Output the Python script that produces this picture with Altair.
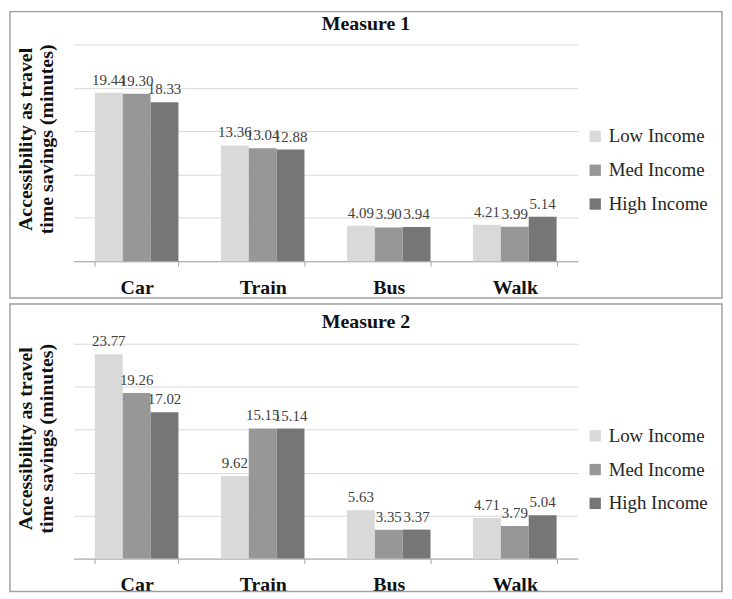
import altair as alt
import pandas as pd

modes = ["Car", "Train", "Bus", "Walk"]
groups = ["Low Income", "Med Income", "High Income"]

m1_low = [19.44, 13.36, 4.09, 4.21]
m1_med = [19.30, 13.04, 3.90, 3.99]
m1_high = [18.33, 12.88, 3.94, 5.14]

m2_low = [23.77, 9.62, 5.63, 4.71]
m2_med = [19.26, 15.15, 3.35, 3.79]
m2_high = [17.02, 15.14, 3.37, 5.04]

y_ticks = [0, 5, 10, 15, 20, 25]
colors = ["#d9d9d9", "#979797", "#767676"]
titles = ["Measure 1", "Measure 2"]
y_title = ["Accessibility as travel", "time savings (minutes)"]

SERIF = "Liberation Serif"
W = 507


def panel(title, low, med, high, h, top, bottom, title_y):
    rows = []
    for g, vals in zip(groups, [low, med, high]):
        for m, v in zip(modes, vals):
            rows.append({"mode": m, "group": g, "value": v})
    df = pd.DataFrame(rows)
    base = alt.Chart(df)

    x = alt.X(
        "mode:N", sort=modes,
        scale=alt.Scale(paddingInner=0.337, paddingOuter=0.1685),
        axis=alt.Axis(
            title=None, labelFont=SERIF, labelFontWeight="bold", labelFontSize=20,
            labelColor="#111111", labelAngle=0, domainColor="#a6a6a6",
            tickColor="#a6a6a6", tickSize=5, tickBand="extent", labelPadding=11,
            grid=False,
        ),
    )
    y = alt.Y(
        "value:Q",
        scale=alt.Scale(domain=[0, 25]),
        axis=alt.Axis(
            values=y_ticks, labels=False, ticks=False, domain=False,
            gridColor="#d9d9d9", title=y_title, titleFont=SERIF,
            titleFontWeight="bold", titleFontSize=20, titleColor="#111111",
            titleX=-48, titleY=95, titleAngle=270, titleAlign="center",
            titleBaseline="middle", titleLineHeight=21,
        ),
    )
    xo = alt.XOffset("group:N", sort=groups)
    color = alt.Color(
        "group:N", sort=groups,
        scale=alt.Scale(domain=groups, range=colors),
        legend=alt.Legend(
            title=None, orient="none", legendX=515, legendY=83,
            symbolType="square", symbolSize=130, symbolStrokeWidth=0,
            labelFont=SERIF, labelFontSize=19, labelColor="#262626",
            rowPadding=14, labelOffset=4,
        ),
    )
    bars = base.mark_bar().encode(x=x, xOffset=xo, y=y, color=color)
    labels = base.mark_text(
        dy=-8, baseline="alphabetic", font=SERIF, fontSize=15, color="#404040"
    ).encode(x=x, xOffset=xo, y=y, text=alt.Text("value:Q", format=".2f"))

    one = pd.DataFrame({"k": [0]})
    frame = alt.Chart(one).mark_rect(
        fill="white", fillOpacity=0, stroke="#a0a0a0", strokeWidth=1.5
    ).encode(x=alt.value(-64), x2=alt.value(652), y=alt.value(-top), y2=alt.value(h + bottom))
    ttl = alt.Chart(one).mark_text(
        font=SERIF, fontSize=20, fontWeight="bold", color="#111111",
        align="center", baseline="middle",
    ).encode(x=alt.value(294), y=alt.value(title_y), text=alt.value(title))

    return alt.layer(frame, bars, labels, ttl).properties(width=W, height=h)


p1 = panel(titles[0], m1_low, m1_med, m1_high, 218, 33, 37, -21)
p2 = panel(titles[1], m2_low, m2_med, m2_high, 216, 40, 33, -22)

chart = (
    alt.vconcat(p1, p2, spacing=2)
    .resolve_scale(color="independent")
    .resolve_legend(color="independent")
    .properties(padding=0)
    .configure_view(stroke="transparent")
)

chart.save("out.html", embed_options={"renderer": "svg", "actions": False})
